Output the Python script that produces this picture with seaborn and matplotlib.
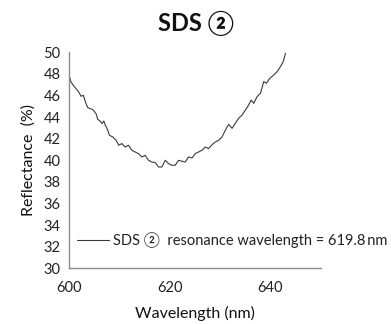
import matplotlib
matplotlib.use("Agg")
import matplotlib.pyplot as plt
import seaborn as sns
import pandas as pd

wavelength = [600.06, 600.40, 600.86, 601.39, 601.93, 602.39, 602.85, 603.04, 603.38,
              603.72, 604.18, 604.72, 605.37, 605.71, 606.03, 606.57, 606.91, 607.22,
              607.70, 608.02, 608.70, 609.35, 609.89, 610.49, 611.14, 611.80, 612.48,
              613.13, 613.79, 614.47, 615.12, 615.78, 616.46, 617.11, 617.77, 618.45,
              619.10, 619.76, 620.44, 621.09, 621.75, 622.43, 623.08, 623.74, 624.42,
              625.07, 625.73, 626.41, 627.06, 627.72, 628.40, 629.05, 629.71, 630.39,
              631.04, 631.70, 632.38, 633.03, 633.69, 634.37, 635.02, 635.68, 636.16,
              636.68, 637.35, 638.01, 638.67, 639.20, 639.86, 640.66, 641.33, 641.99,
              642.53, 642.99]
reflectance = [47.78, 47.25, 46.94, 46.64, 46.32, 45.93, 46.02, 45.71, 45.25,
               44.88, 44.79, 44.69, 44.32, 43.77, 43.70, 43.40, 43.64, 43.24,
               42.78, 42.31, 42.16, 41.85, 41.39, 41.55, 41.23, 41.39, 40.93,
               40.77, 40.62, 40.31, 40.46, 40.00, 39.84, 39.79, 39.38, 39.38,
               40.00, 39.69, 39.54, 39.54, 40.00, 39.91, 39.84, 40.31, 40.21,
               40.62, 40.77, 40.93, 41.23, 41.08, 41.45, 41.69, 41.85, 42.16,
               42.78, 43.33, 42.96, 43.43, 43.89, 44.19, 44.66, 45.12, 45.58,
               45.28, 45.90, 46.20, 47.29, 47.13, 47.59, 47.90, 48.21, 48.68,
               49.14, 49.91]
series_label = "SDS \u2461  resonance wavelength = 619.8\u2009nm"
x_ticks = [600, 620, 640]
y_ticks = [30, 32, 34, 36, 38, 40, 42, 44, 46, 48, 50]

sns.set_theme(style="white")
plt.rcParams['font.family'] = ['Lato', 'DejaVu Sans']

df = pd.DataFrame({"Wavelength": wavelength, "Reflectance": reflectance})

fig = plt.figure(figsize=(3.91, 3.24), dpi=100)
ax = fig.add_axes([0.1765, 0.172, 0.8205 - 0.1765, 0.8386 - 0.172])
sns.lineplot(data=df, x="Wavelength", y="Reflectance", ax=ax, color="#3a3a3a",
             linewidth=0.8, label=series_label)

ax.set_xlim(600, 650)
ax.set_ylim(30, 50)
ax.set_xticks(x_ticks)
ax.set_yticks(y_ticks)
ax.tick_params(axis="both", length=0, labelsize=10.5, colors="#222222", pad=6)
ax.tick_params(axis="x", pad=9)
for s in ["top", "right"]:
    ax.spines[s].set_visible(False)
for s in ["left", "bottom"]:
    ax.spines[s].set_color("#8c8c8c")
    ax.spines[s].set_linewidth(1.0)

ax.set_xlabel("Wavelength (nm)", fontsize=11.5, color="#111111", labelpad=8)
ax.set_ylabel("Reflectance  (%)", fontsize=11.5, color="#111111", labelpad=6)
fig.text(0.5, 1 - 23 / 324, "SDS \u2461", ha="center", va="center",
         fontsize=17, fontweight="bold", color="#111111")

leg = ax.legend(loc="center left", bbox_to_anchor=(0.03, 0.131), frameon=False,
                borderpad=0, borderaxespad=0, handlelength=2.2, handletextpad=0.3,
                fontsize=10.5)
for t in leg.get_texts():
    t.set_color("#222222")

fig.savefig("out.png", dpi=100)
